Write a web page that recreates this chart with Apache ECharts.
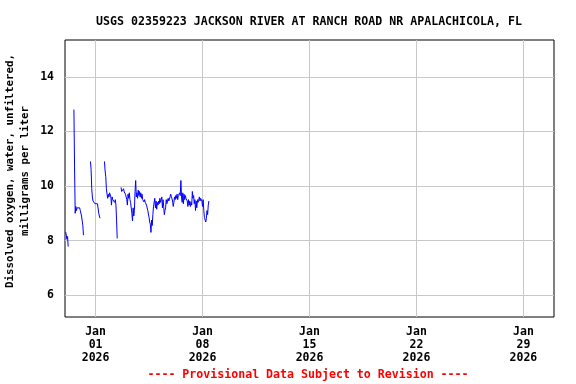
<!DOCTYPE html>
<html>
<head>
<meta charset="utf-8">
<script src="https://cdn.jsdelivr.net/npm/echarts@6/dist/echarts.min.js"></script>
<style>
html,body{margin:0;padding:0;background:#fff;}
#chart{width:576px;height:384px;}
</style>
</head>
<body>
<div id="chart"></div>
<script>
// ---- Text ----
const titleText = 'USGS 02359223 JACKSON RIVER AT RANCH ROAD NR APALACHICOLA, FL';
const yNameLine1 = 'Dissolved oxygen, water, unfiltered,';
const yNameLine2 = 'milligrams per liter';
const footerText = '---- Provisional Data Subject to Revision ----';

// ---- Axes ----
const xMin = '2025-12-30 00:00';
const xMax = '2026-01-31 00:00';
const xTickDates = ['2026-01-01 00:00', '2026-01-08 00:00', '2026-01-15 00:00', '2026-01-22 00:00', '2026-01-29 00:00'];
const monthNames = ['Jan','Feb','Mar','Apr','May','Jun','Jul','Aug','Sep','Oct','Nov','Dec'];
const yMin = 5.2;
const yMax = 15.35;
const yTicks = [6, 8, 10, 12, 14];

// ---- Data: segments of regularly sampled readings (start, step in hours, values in mg/L) ----
const seg1Start = '2025-12-30 01:00';
const seg1Step = 1;
const seg1Values = [8.32, 8.2, 8.05, 8.15, 7.78];

const seg2Start = '2025-12-30 14:00';
const seg2Step = 1;
const seg2Values = [12.8, 10.7, 9.0, 9.25, 9.1, 9.2, 9.15, 9.2, 9.15, 9.2, 9.1, 9.15, 8.9, 8.85, 8.55, 8.2];

const seg3Start = '2025-12-31 16:00';
const seg3Step = 1;
const seg3Values = [10.9, 10.6, 9.9, 9.6, 9.45, 9.4, 9.42, 9.35, 9.4, 9.38, 9.4, 9.35, 9.3, 9.0, 8.9, 8.82];

const seg4Start = '2026-01-01 14:00';
const seg4Step = 1;
const seg4Values = [10.9, 10.55, 10.35, 9.9, 9.7, 9.55, 9.7, 9.6, 9.75, 9.8, 9.6, 9.3, 9.6, 9.5, 9.55, 9.45, 9.4, 9.5, 9.3, 8.75, 8.08];

const seg5Start = '2026-01-02 16:00';
const seg5Step = 1;
const seg5Values = [
  9.95, 9.8, 9.85, 9.75, 9.9, 9.78, 9.85, 9.7, 9.75, 9.5,
  9.3, 9.7, 9.55, 9.75, 9.5, 9.4, 9.35, 9.0, 8.72, 9.2,
  8.9, 9.1, 9.8, 10.2, 9.6, 9.75, 9.55, 9.85, 9.65, 9.8,
  9.6, 9.75, 9.55, 9.7, 9.5, 9.55, 9.42, 9.5, 9.4, 9.35,
  9.3, 9.28, 9.1, 9.05, 8.85, 8.68, 8.6, 8.3, 8.75, 8.55,
  8.95, 9.25, 9.3, 9.55, 9.2, 9.45, 9.15, 9.4, 9.3, 9.45,
  9.35, 9.55, 9.4, 9.5, 9.6, 9.2, 9.5, 9.25, 8.95, 9.1,
  9.2, 9.5, 9.35, 9.45, 9.55, 9.45, 9.52, 9.6, 9.7, 9.62,
  9.68, 9.45, 9.25, 9.4, 9.6, 9.5, 9.65, 9.55, 9.7, 9.5,
  9.65, 9.6, 9.75, 9.65, 10.2, 9.6, 9.4, 9.75, 9.35, 9.7,
  9.5, 9.65, 9.55, 9.6, 9.45, 9.25, 9.5, 9.3, 9.45, 9.25,
  9.4, 9.3, 9.8, 9.55, 9.65, 9.35, 9.5, 9.1, 9.45, 9.2,
  9.5, 9.4, 9.48, 9.6, 9.45, 9.55, 9.5, 9.45, 9.25, 9.5,
  9.1, 8.85, 8.9, 8.68, 8.8, 9.1, 8.95, 9.3, 9.45
];

// ---- Build series data ----
function ts(s) { return new Date(s.replace(' ', 'T')).getTime(); }
const HOUR = 3600 * 1000;
const segments = [
  [seg1Start, seg1Step, seg1Values],
  [seg2Start, seg2Step, seg2Values],
  [seg3Start, seg3Step, seg3Values],
  [seg4Start, seg4Step, seg4Values],
  [seg5Start, seg5Step, seg5Values]
];
const seriesData = [];
segments.forEach(function (seg, k) {
  const t0 = ts(seg[0]);
  seg[2].forEach(function (v, i) { seriesData.push([t0 + i * seg[1] * HOUR, v]); });
  if (k < segments.length - 1) {
    seriesData.push([t0 + seg[2].length * seg[1] * HOUR, null]);
  }
});

const FONT = 'DejaVu Sans Mono';
const chart = echarts.init(document.getElementById('chart'), null, { renderer: 'canvas' });
chart.setOption({
  animation: false,
  backgroundColor: '#ffffff',
  title: {
    text: titleText,
    left: 304, top: 11, textAlign: 'center',
    textStyle: { fontFamily: FONT, fontWeight: 'bold', fontSize: 11.6, color: '#000' }
  },
  grid: {
    left: 65, right: 22, top: 40, bottom: 67,
    show: true, borderColor: '#000', borderWidth: 1, backgroundColor: 'transparent'
  },
  xAxis: {
    type: 'value',
    min: ts(xMin), max: ts(xMax),
    axisLine: { show: false },
    axisTick: { show: false, customValues: xTickDates.map(ts) },
    splitLine: { show: true, lineStyle: { color: '#c8c8c8', width: 1 } },
    axisLabel: {
      customValues: xTickDates.map(ts),
      margin: 9,
      fontFamily: FONT, fontWeight: 'bold', fontSize: 11.5, color: '#000', lineHeight: 13,
      formatter: function (val) {
        const d = new Date(val);
        const dd = ('0' + d.getDate()).slice(-2);
        return monthNames[d.getMonth()] + '\n' + dd + '\n' + d.getFullYear();
      }
    }
  },
  yAxis: {
    type: 'value',
    min: yMin, max: yMax,
    axisLine: { show: false },
    axisTick: { show: false, customValues: yTicks },
    splitLine: { show: true, lineStyle: { color: '#c8c8c8', width: 1 } },
    axisLabel: {
      customValues: yTicks,
      margin: 11,
      fontFamily: FONT, fontWeight: 'bold', fontSize: 11.5, color: '#000'
    }
  },
  graphic: [
    { type: 'text', x: 10.5, y: 171, rotation: Math.PI / 2,
      style: { text: yNameLine1, fontFamily: FONT, fontWeight: 'bold', fontSize: 10.8, fill: '#000', align: 'center', verticalAlign: 'middle' } },
    { type: 'text', x: 25.5, y: 171, rotation: Math.PI / 2,
      style: { text: yNameLine2, fontFamily: FONT, fontWeight: 'bold', fontSize: 10.8, fill: '#000', align: 'center', verticalAlign: 'middle' } },
    { type: 'text', x: 308, y: 375,
      style: { text: footerText, fontFamily: FONT, fontWeight: 'bold', fontSize: 11.6, fill: '#ff0000', align: 'center', verticalAlign: 'middle' } }
  ],
  series: [{
    type: 'line',
    data: seriesData,
    showSymbol: false,
    connectNulls: false,
    lineStyle: { color: '#0000ff', width: 1 },
    itemStyle: { color: '#0000ff' }
  }]
});
</script>
</body>
</html>
